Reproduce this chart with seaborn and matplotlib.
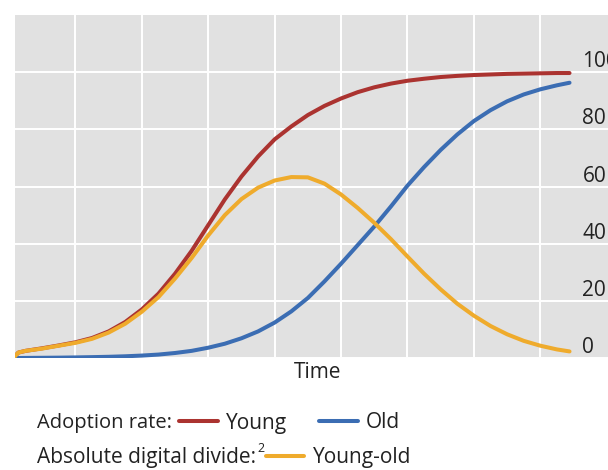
import numpy as np
import pandas as pd
import matplotlib.pyplot as plt
import seaborn as sns

# time axis (arbitrary units, gridlines every 1)
time = [0.09, 0.14, 0.25, 0.5, 0.75, 1.0, 1.25, 1.5, 1.75, 2.0, 2.25, 2.5, 2.75,
        3.0, 3.25, 3.5, 3.75, 4.0, 4.25, 4.5, 4.75, 5.0, 5.25, 5.5, 5.75,
        6.0, 6.25, 6.5, 6.75, 7.0, 7.25, 7.5, 7.75, 8.0, 8.25, 8.44]
young = [0.6, 1.9, 2.5, 3.4, 4.4, 5.5, 7.0, 9.3, 12.6, 17.0, 22.5, 29.5, 37.5,
         46.5, 55.5, 63.5, 70.5, 76.5, 81.0, 85.0, 88.2, 90.8, 93.0, 94.7, 96.0,
         97.0, 97.7, 98.3, 98.7, 99.0, 99.2, 99.4, 99.5, 99.6, 99.7, 99.7]
old = [0.0, 0.0, 0.03, 0.07, 0.12, 0.2, 0.3, 0.42, 0.6, 0.85, 1.2, 1.75, 2.5,
       3.6, 5.0, 6.9, 9.3, 12.4, 16.3, 21.0, 26.8, 33.0, 39.5, 46.0, 53.0,
       60.3, 66.8, 72.8, 78.2, 82.9, 86.7, 89.8, 92.2, 94.0, 95.4, 96.3]
divide = [0.6, 1.9, 2.5, 3.3, 4.3, 5.3, 6.7, 8.9, 12.0, 16.2, 21.3, 27.8, 35.0,
          42.9, 50.0, 55.6, 59.6, 62.1, 63.3, 63.2, 61.0, 57.2, 52.5, 47.3, 41.6,
          35.5, 29.5, 24.0, 19.0, 14.8, 11.2, 8.3, 6.0, 4.3, 3.0, 2.3]

series_names = ["Young", "Old", "Young-old"]
colors = ["#ab3330", "#3b6db3", "#efab2c"]
y_ticks = [0, 20, 40, 60, 80, 100]

df = pd.DataFrame({"Time": time * 3,
                   "value": young + old + divide,
                   "series": np.repeat(series_names, len(time))})

sns.set_style("darkgrid", {"axes.facecolor": "#e1e1e1", "grid.color": "white"})
plt.rcParams["font.family"] = ["Open Sans", "DejaVu Sans"]

W, H = 608, 470
fig = plt.figure(figsize=(W / 100, H / 100), dpi=100)
ax = fig.add_axes([15 / W, 1 - 358 / H, 605 / W, 343 / H])

sns.lineplot(data=df, x="Time", y="value", hue="series", hue_order=series_names,
             palette=colors, linewidth=2.9, legend=False, ax=ax)

ax.set_xlim(0.09, 9.2)
ax.set_ylim(0, 120)
ax.set_xticks(range(1, 9))
ax.set_yticks(y_ticks)
ax.grid(True, color="white", linewidth=1.4)
for s in ax.spines.values():
    s.set_visible(False)

txt = "#222222"
fs = 15
ax.yaxis.tick_right()
ax.tick_params(axis="x", length=0, labelbottom=False)
ax.tick_params(axis="y", length=0, pad=-27, labelsize=fs, labelcolor=txt)
for lab in ax.get_yticklabels():
    lab.set_va("bottom")
ax.set_ylabel("")
ax.set_xlabel("Time", fontsize=fs, color=txt, labelpad=3)

lines = ax.get_lines()
fig.text(37 / W, 1 - 423 / H, "Adoption rate:", fontsize=14.5, va="center", color=txt)
leg1 = fig.legend(handles=lines[:2], labels=series_names[:2], ncol=2,
                  loc="center left", bbox_to_anchor=(179 / W, 1 - 423 / H),
                  frameon=False, fontsize=fs, handlelength=1.85, handletextpad=0.4,
                  columnspacing=1.55, borderpad=0, borderaxespad=0)
for t in leg1.get_texts():
    t.set_color(txt)

fig.text(37 / W, 1 - 458 / H, "Absolute digital divide:", fontsize=fs, va="center", color=txt)
fig.text(257 / W, 1 - 449 / H, "2", fontsize=9, va="center", color=txt)
leg2 = fig.legend(handles=lines[2:3], labels=series_names[2:3], loc="center left",
                  bbox_to_anchor=(266 / W, 1 - 458 / H), frameon=False, fontsize=fs,
                  handlelength=1.8, handletextpad=0.45, borderpad=0, borderaxespad=0)
for t in leg2.get_texts():
    t.set_color(txt)

fig.savefig("out.png", dpi=100)
